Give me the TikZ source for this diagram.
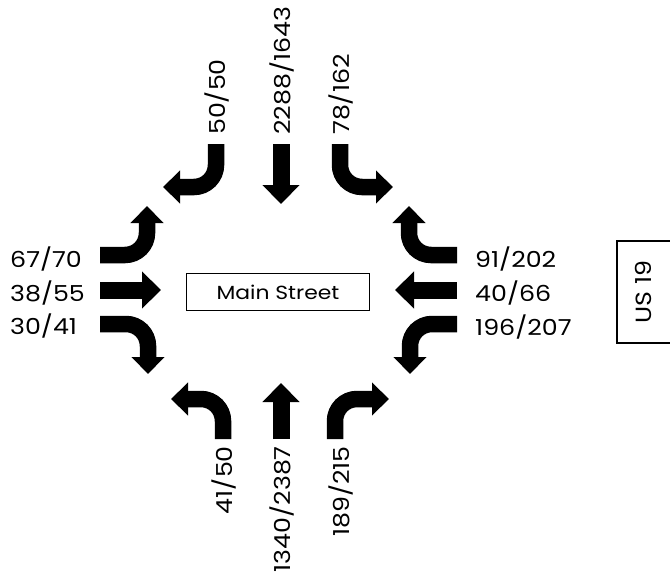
\documentclass[tikz,border=0pt]{standalone}
\usepackage{fontspec}
\setmainfont{Poppins}
\newfontfamily\volfont[FakeStretch=1.15]{Poppins}
\usetikzlibrary{arrows.meta}
\tikzset{
  lane/.style={line width=17pt, -{Triangle[length=19pt,width=36pt]}},
  turn/.style={line width=16.5pt, rounded corners=22pt, -{Triangle[length=17pt,width=32pt]}},
  vol/.style={font=\volfont\fontsize{22}{26}\selectfont, inner sep=0pt},
  framebox/.style={draw, line width=1.8pt, inner sep=0pt},
}
\begin{document}
\begin{tikzpicture}[x=1pt, y=-1pt]
\useasboundingbox (0,0) rectangle (670,571);
% coordinates
\coordinate (tls) at (216,144); \coordinate (tle) at (163,187);
\coordinate (trs) at (340,144); \coordinate (tre) at (393,187);
\coordinate (tcs) at (281,144); \coordinate (tce) at (281,204);
\coordinate (bls) at (223,439); \coordinate (ble) at (171,399);
\coordinate (brs) at (335,439); \coordinate (bre) at (389,399);
\coordinate (bcs) at (281,439); \coordinate (bce) at (281,383);
\coordinate (lus) at (100,255); \coordinate (lue) at (147,206);
\coordinate (lms) at (100,290); \coordinate (lme) at (161,290);
\coordinate (lls) at (100,324); \coordinate (lle) at (148,374);
\coordinate (rus) at (457,255); \coordinate (rue) at (409,206);
\coordinate (rms) at (457,290); \coordinate (rme) at (395,290);
\coordinate (rls) at (457,324); \coordinate (rle) at (410,374);
% arrows
\draw[turn] (tls) |- (tle);
\draw[turn] (trs) |- (tre);
\draw[lane] (tcs) -- (tce);
\draw[turn] (bls) |- (ble);
\draw[turn] (brs) |- (bre);
\draw[lane] (bcs) -- (bce);
\draw[turn] (lus) -| (lue);
\draw[lane] (lms) -- (lme);
\draw[turn] (lls) -| (lle);
\draw[turn] (rus) -| (rue);
\draw[lane] (rms) -- (rme);
\draw[turn] (rls) -| (rle);
% labels
\node[vol, rotate=90, anchor=west] (t1) at (217,135) {50/50};
\node[vol, rotate=90, anchor=west] (t2) at (282,135) {2288/1643};
\node[vol, rotate=90, anchor=west] (t3) at (341,135) {78/162};
\node[vol, rotate=90, anchor=east] (b1) at (224,446) {41/50};
\node[vol, rotate=90, anchor=east] (b2) at (282,446) {1340/2387};
\node[vol, rotate=90, anchor=east] (b3) at (341,446) {189/215};
\node[vol, anchor=west] (l1) at (10,259) {67/70};
\node[vol, anchor=west] (l2) at (10,293) {38/55};
\node[vol, anchor=west] (l3) at (10,326) {30/41};
\node[vol, anchor=west] (r1) at (475,259) {91/202};
\node[vol, anchor=west] (r2) at (475,293) {40/66};
\node[vol, anchor=west] (r3) at (475,327) {196/207};
\node[framebox, minimum width=183pt, minimum height=37pt, font=\volfont\fontsize{19}{22}\selectfont] (main) at (278,292) {Main Street};
\draw[line width=1.8pt] (617,241) rectangle (672,343);
\node[vol, rotate=90] (us) at (643,292) {US 19};
\end{tikzpicture}
\end{document}
